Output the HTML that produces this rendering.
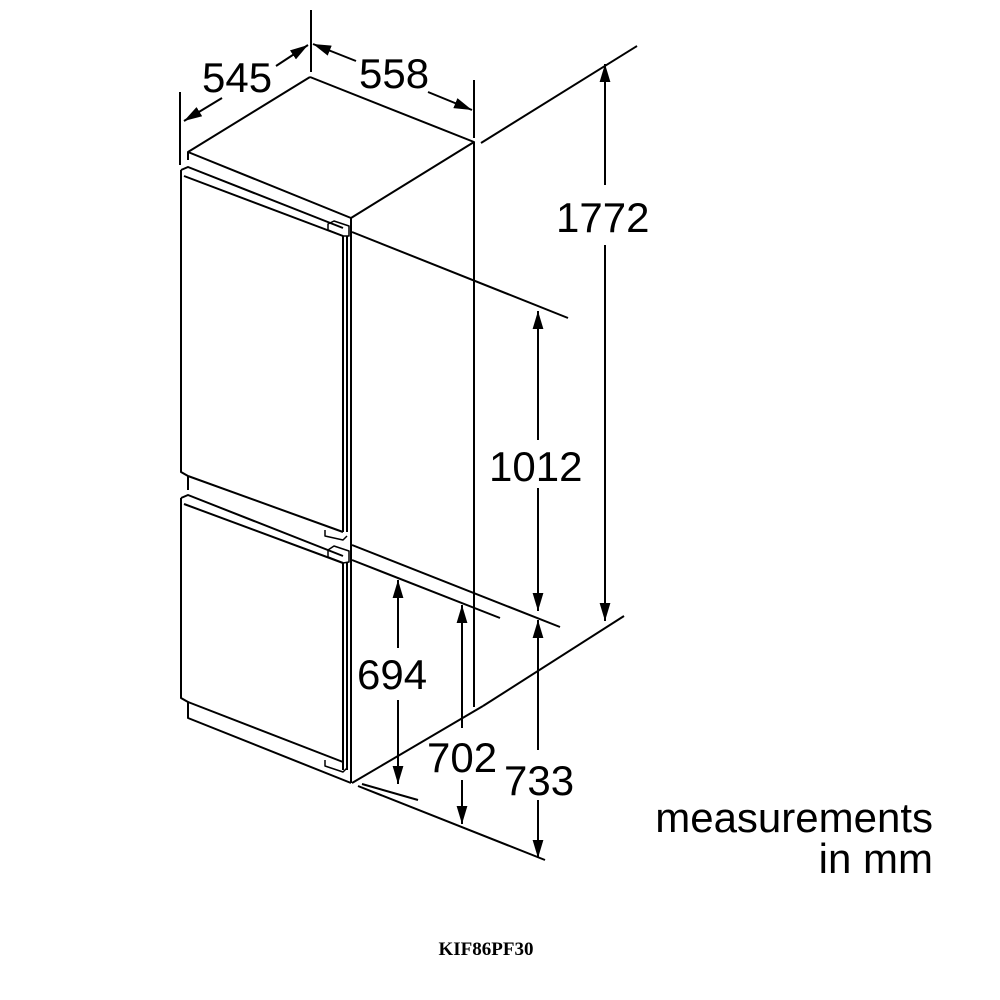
<!DOCTYPE html>
<html><head><meta charset="utf-8"><style>
html,body{margin:0;padding:0;background:#fff;}
svg{display:block;}
text{font-family:"Liberation Sans",Arial,sans-serif;fill:#000;}
</style></head><body>
<svg width="1000" height="1000" viewBox="0 0 1000 1000" xmlns="http://www.w3.org/2000/svg">
<defs>
<marker id="b" viewBox="0 0 10 10" refX="10" refY="5" markerWidth="18" markerHeight="18" markerUnits="userSpaceOnUse" orient="auto"><path d="M0,2 L10,5 L0,8 z" fill="#000"/></marker>
</defs>
<g stroke="#000" stroke-width="2" fill="none" stroke-linejoin="round">
<path d="M310,77 L188,152 L188,160"/>
<path d="M310,77 L474,142 L351,218 L188,152"/>
<path d="M474,142 L474,707"/>
<path d="M351,218 L351,783"/>
<path d="M181,170 L181,472 L188,476"/>
<path d="M181,170 L188,167 L343,228"/>
<path d="M184,176 L343,236"/>
<path d="M343,236 L343,532"/>
<path d="M347,236 L347,532"/>
<path d="M188,476 L343,532"/>
<path d="M188,476 L188,490"/>
<path d="M181,498 L188,495 L343,556"/>
<path d="M184,504 L343,563"/>
<path d="M181,498 L181,698 L188,702 L188,718 L351,783"/>
<path d="M188,702 L343,762"/>
<path d="M343,563 L343,770"/>
<path d="M347,563 L347,770"/>
<path d="M328,224 L334,221 L349,226 L349,236 L343,236 L328,230 z" stroke-width="1.5"/>
<path d="M325,530 L325,536 L343,540 L347,536" stroke-width="1.5"/>
<path d="M328,550 L334,546 L349,551 L349,562 L343,563 L328,557 z" stroke-width="1.5"/>
<path d="M325,760 L325,766 L343,772 L347,768" stroke-width="1.5"/>
<path d="M311,10 L311,72"/>
<path d="M180,92 L180,165"/>
<path d="M474,80 L474,138"/>
<path d="M481,143 L637,46"/>
<path d="M352,232 L568,318"/>
<path d="M352,545 L560,627"/>
<path d="M352,560 L500,618"/>
<path d="M483,706 L624,616"/>
<path d="M352,783 L483,706"/>
<path d="M362,784 L418,800"/>
<path d="M358,786 L545,860"/>
<path d="M222,98 L184,121" marker-end="url(#b)"/>
<path d="M276,66 L308,45" marker-end="url(#b)"/>
<path d="M356,61 L313,44" marker-end="url(#b)"/>
<path d="M428,92 L472,110" marker-end="url(#b)"/>
<path d="M605,185 L605,64" marker-end="url(#b)"/>
<path d="M605,245 L605,621" marker-end="url(#b)"/>
<path d="M538,440 L538,311" marker-end="url(#b)"/>
<path d="M538,488 L538,611" marker-end="url(#b)"/>
<path d="M538,750 L538,620" marker-end="url(#b)"/>
<path d="M538,800 L538,858" marker-end="url(#b)"/>
<path d="M398,648 L398,580" marker-end="url(#b)"/>
<path d="M398,700 L398,784" marker-end="url(#b)"/>
<path d="M462,728 L462,605" marker-end="url(#b)"/>
<path d="M462,780 L462,824" marker-end="url(#b)"/>
</g>
<g font-size="42">
<text x="202" y="92">545</text>
<text x="359" y="88">558</text>
<text x="556" y="232">1772</text>
<text x="489" y="481">1012</text>
<text x="357" y="689">694</text>
<text x="427" y="772">702</text>
<text x="504" y="795">733</text>
<text x="933" y="832" text-anchor="end">measurements</text>
<text x="933" y="873" text-anchor="end">in mm</text>
</g>
<text x="486" y="955" text-anchor="middle" font-size="19" font-weight="bold" style="font-family:'Liberation Serif',serif">KIF86PF30</text>
</svg>
</body></html>
